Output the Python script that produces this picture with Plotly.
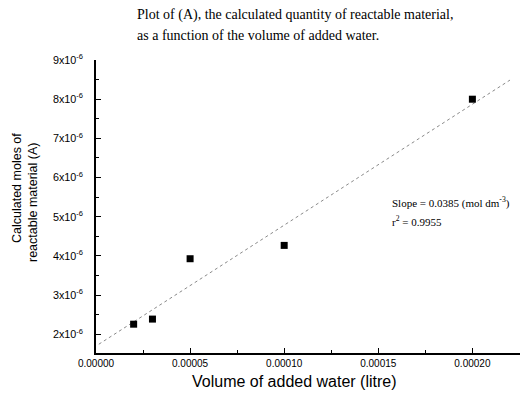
import numpy as np
import plotly.graph_objects as go

# Data
volume_litre = [2.0e-5, 3.0e-5, 5.0e-5, 1.0e-4, 2.0e-4]
moles_A = [2.26e-6, 2.39e-6, 3.93e-6, 4.27e-6, 8.00e-6]
fit_x_span = [1.5e-6, 2.2e-4]

y_tick_vals = [2e-6, 3e-6, 4e-6, 5e-6, 6e-6, 7e-6, 8e-6, 9e-6]
y_tick_text = [f"{m}x10<sup>-6</sup>" for m in [2, 3, 4, 5, 6, 7, 8, 9]]

title_lines = ["Plot of (A), the calculated quantity of reactable material,",
               "as a function of the volume of added water."]
y_title_lines = ["Calculated moles of", "reactable material (A)"]
slope_text = "Slope = 0.0385 (mol dm<sup>-3</sup>)"
r2_text = "r<sup>2</sup> = 0.9955"

# Least-squares line through the data
coef = np.polyfit(volume_litre, moles_A, 1)
fit_x = np.array(fit_x_span)
fit_y = np.polyval(coef, fit_x)

fig = go.Figure()
fig.add_trace(go.Scatter(x=fit_x, y=fit_y, mode="lines",
                         line=dict(color="#8a8a8a", width=1, dash="dot"),
                         hoverinfo="skip", showlegend=False))
fig.add_trace(go.Scatter(x=volume_litre, y=moles_A, mode="markers",
                         marker=dict(symbol="square", size=7, color="black"),
                         showlegend=False))

sans = "Liberation Sans, Arial, sans-serif"
serif = "Liberation Serif, Times New Roman, serif"

# page body has an 8px margin: figure coordinates = screen - 8
OFF = 8
W, H = 531 - OFF, 397 - OFF
L, R, T, B = 96 - OFF, 11, 60 - OFF, 44

fig.update_layout(
    width=W, height=H,
    margin=dict(l=L, r=R, t=T, b=B),
    paper_bgcolor="white", plot_bgcolor="white",
    xaxis=dict(range=[0, 2.253e-4], dtick=5e-5, tick0=0, tickformat=".5f",
               showline=True, linecolor="black", linewidth=1.5,
               ticks="inside", ticklen=5, tickcolor="black", tickwidth=1,
               minor=dict(ticks="inside", ticklen=3, dtick=2.5e-5, tick0=0, tickcolor="black"),
               showgrid=False, zeroline=False,
               tickfont=dict(family=sans, size=10, color="black")),
    yaxis=dict(range=[1.525e-6, 9e-6], tickmode="array", tickvals=y_tick_vals, ticktext=y_tick_text,
               showline=True, linecolor="black", linewidth=1.5,
               ticks="inside", ticklen=5, tickcolor="black", tickwidth=1,
               minor=dict(ticks="inside", ticklen=3, dtick=5e-7, tick0=0, tickcolor="black"),
               showgrid=False, zeroline=False, ticklabelstandoff=9,
               tickfont=dict(family=sans, size=10.8, color="black")),
    showlegend=False,
)

pw, ph = W - L - R, H - T - B


def px(xs):
    return (xs - OFF - L) / pw


def py(ys):
    return (H - B - (ys - OFF)) / ph


fig.add_annotation(text=title_lines[0], x=px(135), y=py(15), xref="paper", yref="paper",
                   showarrow=False, xanchor="left", yanchor="middle",
                   font=dict(family=serif, size=14, color="black"))
fig.add_annotation(text=title_lines[1], x=px(135), y=py(35), xref="paper", yref="paper",
                   showarrow=False, xanchor="left", yanchor="middle",
                   font=dict(family=serif, size=14, color="black"))
fig.add_annotation(text="Volume of added water (litre)", x=px(294), y=py(381), xref="paper", yref="paper",
                   showarrow=False, xanchor="center", yanchor="middle",
                   font=dict(family=sans, size=16, color="black"))
fig.add_annotation(text=y_title_lines[0], x=px(17), y=py(188),
                   xref="paper", yref="paper", showarrow=False, textangle=-90,
                   xanchor="center", yanchor="middle",
                   font=dict(family=sans, size=12.5, color="black"))
fig.add_annotation(text=y_title_lines[1], x=px(33), y=py(202),
                   xref="paper", yref="paper", showarrow=False, textangle=-90,
                   xanchor="center", yanchor="middle",
                   font=dict(family=sans, size=12.5, color="black"))
fig.add_annotation(text=slope_text, x=px(390), y=py(202), xref="paper", yref="paper",
                   showarrow=False, xanchor="left", yanchor="middle",
                   font=dict(family=serif, size=11, color="black"))
fig.add_annotation(text=r2_text, x=px(390), y=py(221), xref="paper", yref="paper",
                   showarrow=False, xanchor="left", yanchor="middle",
                   font=dict(family=serif, size=11, color="black"))

fig.write_html("out.html")
